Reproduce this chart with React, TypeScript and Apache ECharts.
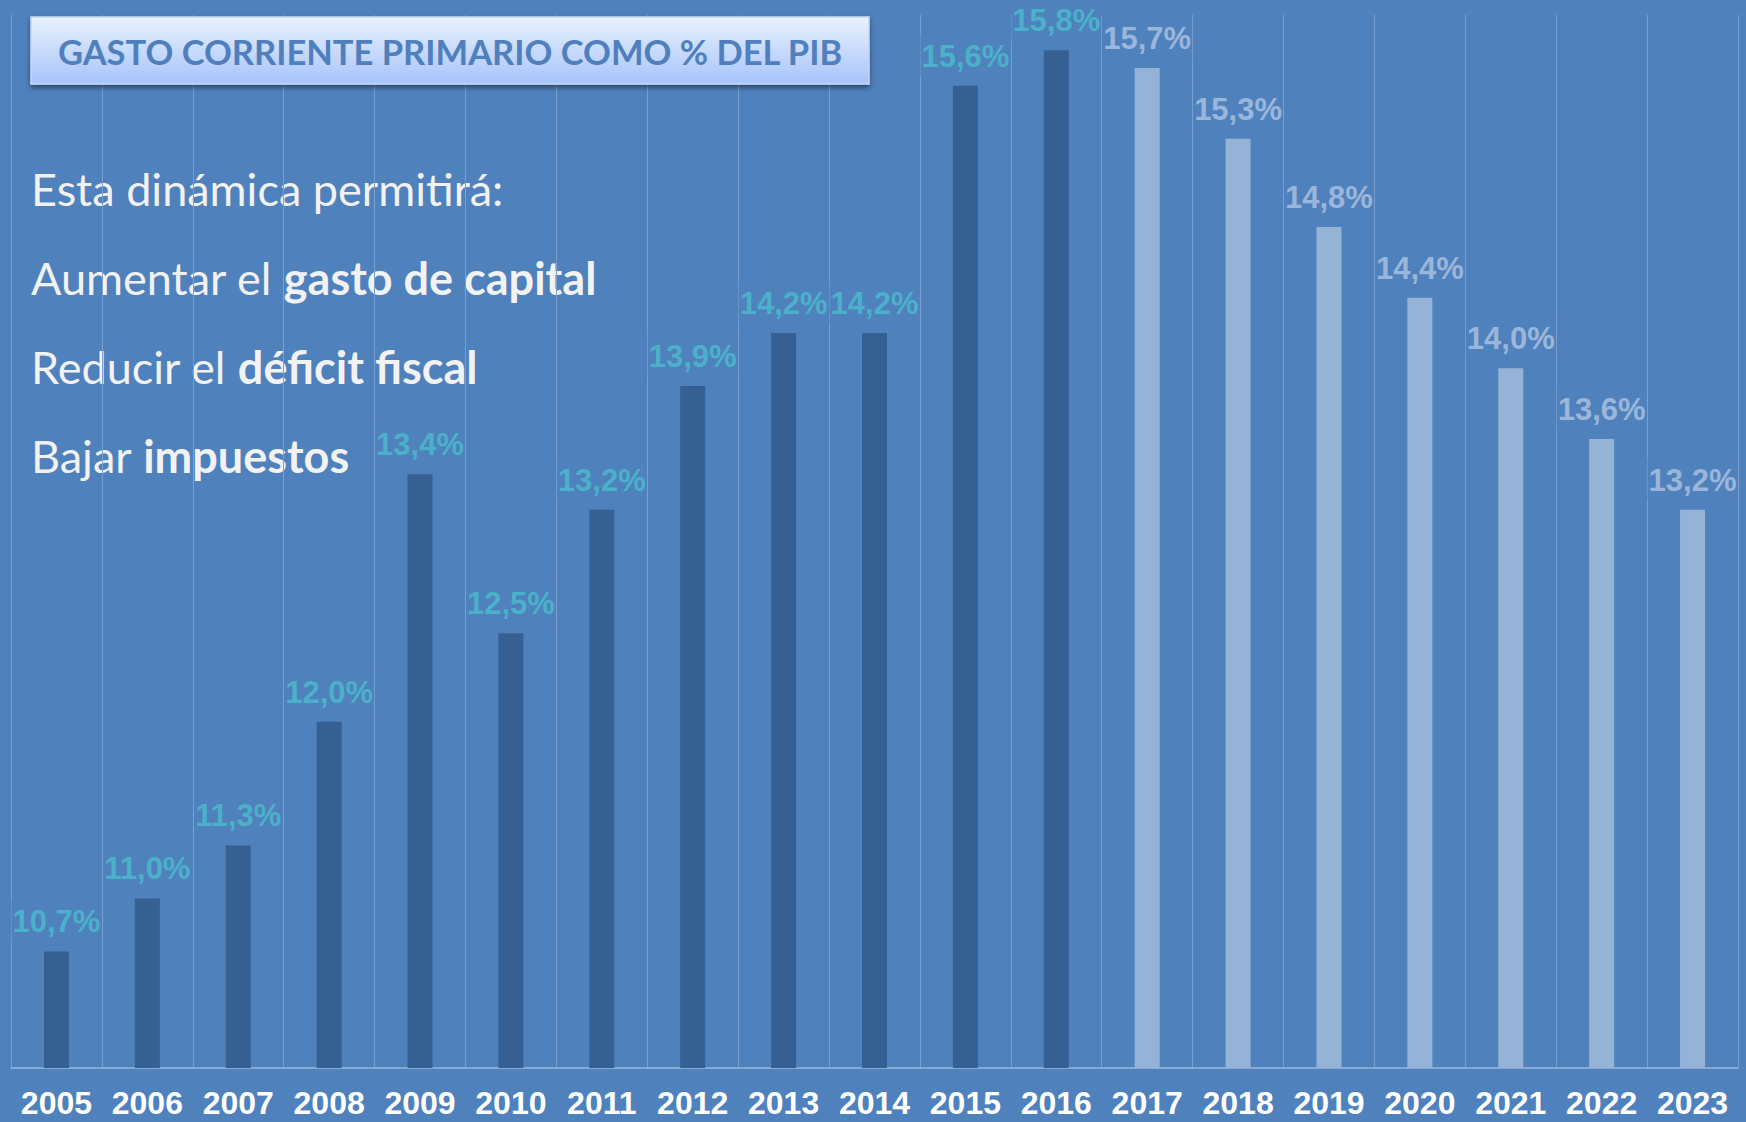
import React, { useEffect, useRef } from "react";
import * as echarts from "echarts";

const years = ["2005","2006","2007","2008","2009","2010","2011","2012","2013","2014","2015","2016","2017","2018","2019","2020","2021","2022","2023"];
const values = [10.7, 11.0, 11.3, 12.0, 13.4, 12.5, 13.2, 13.9, 14.2, 14.2, 15.6, 15.8, 15.7, 15.3, 14.8, 14.4, 14.0, 13.6, 13.2];
const projectedFrom = 12; // index of first projected year (2017)
const titleText = "GASTO CORRIENTE PRIMARIO COMO % DEL PIB";
const notes = [
  { plain: "Esta dinámica permitirá:", bold: "" },
  { plain: "Aumentar el ", bold: "gasto de capital" },
  { plain: "Reducir el ", bold: "déficit fiscal" },
  { plain: "Bajar ", bold: "impuestos" },
];

const BG = "#4f81bd";

export default function App() {
  const ref = useRef<HTMLDivElement>(null);
  useEffect(() => {
    const chart = echarts.init(ref.current!, null, { renderer: "svg" });
    const data = values.map((v, i) => {
      const proj = i >= projectedFrom;
      return {
        value: v,
        itemStyle: { color: proj ? "#95b3d7" : "#366092" },
        label: { color: proj ? "#9ab6da" : "#4bb0c9" },
      };
    });
    const noteLines = notes.map((n, i) => ({
      type: "text",
      x: 31,
      y: 189 + i * 89,
      style: {
        text: n.bold ? `${n.plain}{b|${n.bold}}` : n.plain,
        fill: "#f2f2f2",
        font: "400 45px Lato",
        verticalAlign: "middle",
        rich: {
          b: { fontFamily: "Lato", fontWeight: "bold", fontSize: 45, fill: "#f2f2f2", color: "#f2f2f2" },
        },
      },
    }));
    chart.setOption({
      animation: false,
      backgroundColor: BG,
      grid: { left: 11, right: 8, top: 15, bottom: 54 },
      xAxis: {
        type: "category",
        data: years,
        boundaryGap: true,
        axisLine: { show: true, lineStyle: { color: "#9ab8dc", width: 1.5 } },
        axisTick: { show: false },
        axisLabel: {
          color: "#ffffff",
          fontFamily: "Liberation Sans",
          fontWeight: "bold",
          fontSize: 32,
          lineHeight: 32,
          margin: 19,
          interval: 0,
        },
        splitLine: { show: true, showMinLine: true, showMaxLine: true, lineStyle: { color: "#7ba0cf", width: 1 } },
      },
      yAxis: {
        type: "value",
        min: 10.04,
        max: 16,
        show: false,
        splitLine: { show: false },
      },
      series: [
        {
          type: "bar",
          data,
          barWidth: 25,
          label: {
            show: true,
            position: "top",
            distance: 9,
            formatter: (p: any) => p.value.toFixed(1).replace(".", ",") + "%",
            fontFamily: "Liberation Sans",
            fontWeight: "bold",
            fontSize: 31,
            backgroundColor: BG,
            padding: [7, 1, 5, 1],
          },
          z: 3,
        },
      ],
      graphic: [
        {
          type: "rect",
          shape: { x: 31, y: 17, width: 838, height: 67 },
          style: {
            fill: new echarts.graphic.LinearGradient(0, 0, 0, 1, [
              { offset: 0, color: "#e9f1ff" },
              { offset: 1, color: "#a7c4fa" },
            ]),
            stroke: "#c6d8f5",
            lineWidth: 1.5,
            shadowBlur: 5,
            shadowOffsetY: 3,
            shadowColor: "rgba(0,0,0,0.45)",
          },
          z: 10,
        },
        {
          type: "text",
          x: 450,
          y: 51,
          style: {
            text: titleText,
            fill: "#4f7fbd",
            font: "bold 34.5px Lato",
            align: "center",
            verticalAlign: "middle",
          },
          z: 11,
        },
        ...noteLines,
      ],
    });
    return () => chart.dispose();
  }, []);
  return (
    <div
      ref={ref}
      style={{ position: "fixed", left: 0, top: 0, width: 1746, height: 1122 }}
    />
  );
}
